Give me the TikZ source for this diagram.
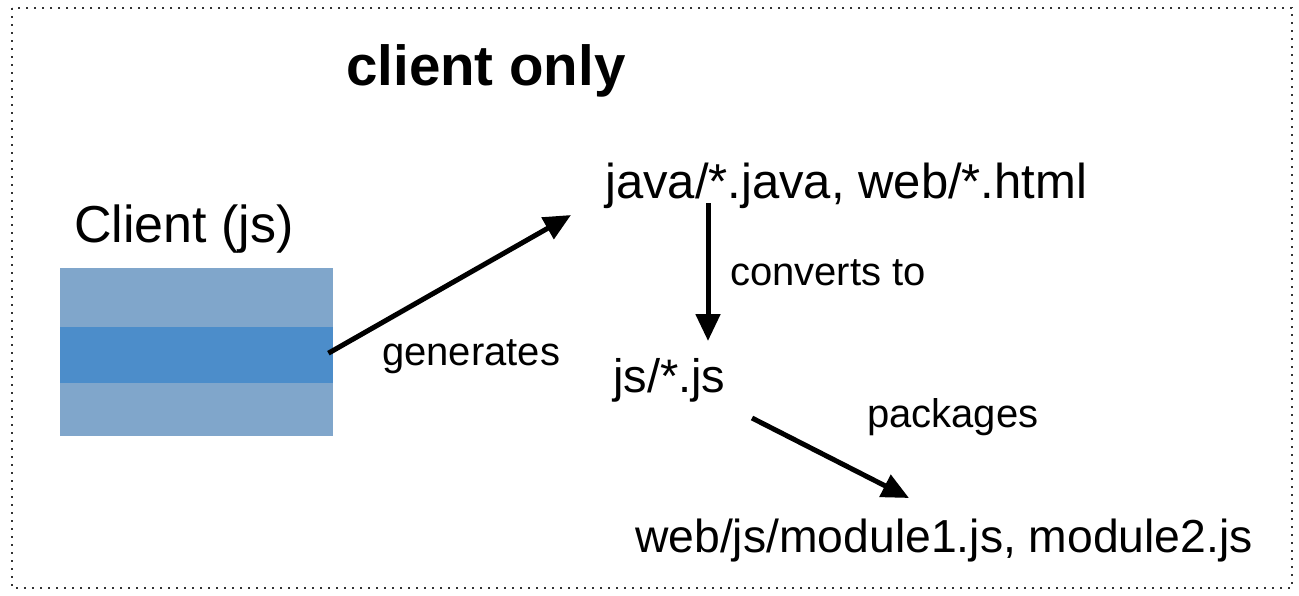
\documentclass[tikz,border=0pt]{standalone}
\usepackage{fontspec}
\setmainfont{Liberation Sans}
\usetikzlibrary{arrows.meta}
\definecolor{stripelight}{HTML}{80A6CB}
\definecolor{stripedark}{HTML}{4C8DCA}
\definecolor{framegray}{HTML}{333333}
\begin{document}
\begin{tikzpicture}[x=1pt,y=-1pt,
  txt/.style={inner sep=0pt,anchor=base west,font=\fontsize{47}{52}\selectfont},
  lbl/.style={inner sep=0pt,anchor=base west,font=\fontsize{40}{44}\selectfont},
  flow/.style={line width=5pt,-{Triangle[length=27pt,width=24pt]}}]
\useasboundingbox (0,0) rectangle (1299,595);
% dotted outer frame
\draw[framegray,line width=2pt,dash pattern=on 2pt off 6pt] (12,8) rectangle (1292,588);
% title
\node[inner sep=0pt,anchor=base west,font=\fontsize{56.5}{60}\selectfont\bfseries] (title) at (346,85) {client only};
% client box with three stripes
\node[txt,font=\fontsize{52}{56}\selectfont] (clientlbl) at (74,242) {Client (js)};
\node[draw=none,fill=stripelight,inner sep=0pt,minimum width=273pt,minimum height=168pt,anchor=north west] (box) at (60,268) {};
\fill[stripedark] ([yshift=-59pt]box.north west) rectangle ([yshift=53pt]box.south east);
% file nodes
\node[txt,font=\fontsize{49}{54}\selectfont] (java) at (605,198) {java/*.java, web/*.html};
\node[txt] (js) at (613,392) {js/*.js};
\node[txt,font=\fontsize{46.3}{52}\selectfont] (web) at (635,552) {web/js/module1.js, module2.js};
% edge labels
\node[lbl] (gen) at (382,365) {generates};
\node[lbl] (conv) at (730,285) {converts to};
\node[lbl] (pack) at (867,427) {packages};
% connector end points
\coordinate (g1) at ([xshift=-5pt,yshift=-1pt]box.east);
\coordinate (g2) at ([xshift=-34pt,yshift=-17pt]java.base west);
\coordinate (c1) at (708,203);
\coordinate (c2) at (708,341);
\coordinate (p1) at (752,418);
\coordinate (p2) at (909,498);
\draw[flow] (g1) -- (g2);
\draw[flow] (c1) -- (c2);
\draw[flow] (p1) -- (p2);
\end{tikzpicture}
\end{document}
